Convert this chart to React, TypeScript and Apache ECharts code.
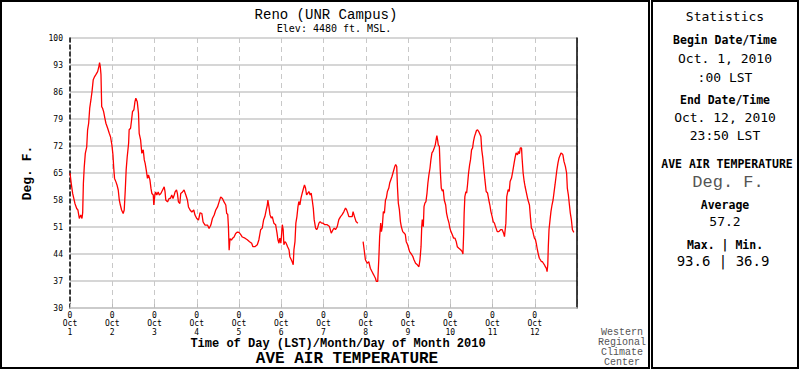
import React, { useEffect, useRef } from "react";
import * as echarts from "echarts";

// Hours since Oct 1, 2010 00:00 LST
const hourOffsets: number[] = [
  0, 0.7, 1.5, 2.8, 3.8, 4.5, 5.3, 6.1, 6.8, 7.2, 7.6, 8.1, 8.7, 9.5, 10, 10.6, 11.2, 11.9, 12.5, 13.2, 14, 14.7, 15.7, 16.4, 16.8, 17.2, 17.6, 18, 18.5, 19.1, 19.8, 20.4, 21.4, 22.3, 23, 23.8,
  24.4, 24.8, 25.3, 26.1, 26.7, 27.4, 28, 28.6, 29.3, 30.2, 30.8, 31.4, 31.9, 32.5, 33.3, 33.6, 34.4, 35, 35.5, 36.3, 36.9, 37.4, 38.2, 38.9, 39.3, 40.1, 40.8, 41.6, 42.2, 42.7, 43.3, 44, 44.6, 45.4, 46, 46.5, 47.3, 47.6,
  48.2, 48.7, 49.3, 50.1, 50.7, 51.6, 52.6, 53.5, 54, 54.4, 55.4, 56.3, 57, 57.8, 58.5, 59.2, 59.7, 60.5, 61, 61.6, 62.4, 62.9, 63.9, 64.8, 65.8, 66.7, 67.3, 68.2, 69.2, 70.3, 71,
  72, 73, 73.9, 74.9, 75.6, 76.7, 78.1, 79, 80, 80.9, 81.9, 82.8, 83.8, 84.7, 85.6, 86.6, 87.5, 88.5, 89, 89.6, 90, 90.4, 90.9, 91.7, 92.2, 93.2, 94.1, 95.1,
  96, 97, 97.9, 99.4, 100.7, 102, 103.2, 103.9, 105, 106.4, 107.3, 108.3, 109.2, 110, 110.7, 111.5, 112.1, 112.4, 113, 113.6, 114.3, 114.9, 115.8, 116.8, 117.6, 118.1, 118.7, 119.2, 119.8,
  120.6, 121.1, 121.5, 122.1, 122.8, 123.6, 124.4, 124.9, 125.7, 126.2, 126.8, 127.2, 127.8, 128.3, 128.9, 129.5, 130, 130.6, 131.2, 131.9, 132.7, 133.2, 133.8, 134.4, 135.1, 135.7, 136.4, 137, 137.6, 138.2, 138.7, 139.5, 140.1, 140.6, 141.4, 142.1, 142.9, 143.6,
  144.8, 146.1, 147.4, 148.4, 149.4, 150.1, 150.8, 151.8, 152.7, 153.7, 154.6, 155.6, 156.5, 157.1, 157.8, 158.4, 159.3, 160.3, 160.8, 161.6, 162.5, 163.5, 165,
  166.5, 167.1, 167.8, 168.8, 169.7, 170.6, 171.6, 172.5, 173.5, 174, 174.8, 175.4, 175.9, 176.5, 176.9, 177.4, 178, 178.6, 179.2, 179.7, 180.3, 181.1, 181.6, 182.2, 182.9, 183.7, 184.5, 185, 185.6, 186, 186.5, 187.1, 187.7, 188.2, 189, 189.9, 190.5, 191, 191.8,
  192.9, 193.9, 194.8, 195.4, 196.3, 197.3, 198.2, 198.8, 199.4, 199.8, 200.1, 200.7, 201.1, 201.6, 202.2, 202.8, 203.3, 203.9, 204.5, 205, 205.6, 206.2, 206.9, 207.5, 208.1, 208.4, 208.8, 209.2, 209.8, 210.3, 210.9, 211.5, 212, 212.6, 213.4, 213.9, 214.5, 215.3, 215.8,
  216.4, 217.2, 217.9, 218.7, 219.4, 220, 220.9, 221.9, 222.8, 223.2, 223.6, 223.9, 224.3, 224.9, 225.3, 225.8, 226.4, 227, 227.5, 228.1, 228.7, 229.2, 229.8, 230.4, 230.9, 231.5, 232.1, 232.6, 233.4, 233.9, 234.5, 235.1, 235.7, 236.4, 237.2, 237.9, 238.5, 239.1, 239.8,
  240.4, 241.1, 241.7, 242.7, 243.6, 244.6, 245.5, 246.3, 246.8, 247.2, 247.6, 248.1, 248.9, 249.5, 250, 250.8, 251.5, 252.3, 252.8, 253.4, 254.2, 254.7, 255.3, 255.8, 256.5, 256.8, 257.4, 258, 258.5, 259.3, 259.9, 260.4, 261, 261.6, 262.1, 262.7, 263.3, 263.8,
  264.4, 265, 265.5, 266.1, 266.6, 267.2, 267.8, 268.3, 268.9, 269.5, 270, 270.6, 271, 271.4, 271.7, 272.1, 272.7, 273.2, 273.8, 274.4, 274.9, 275.5, 276.1, 276.6, 277.2, 277.8, 278.3, 278.9, 279.5, 280, 280.6, 281.4, 282.1, 282.5, 283.1, 283.7, 284.2, 284.8, 285.4, 286.2,
];

// Average air temperature, deg F (null = missing data)
const avgAirTempF: (number | null)[] = [
  65, 62.3, 59.7, 57.1, 55.8, 55.4, 53.2, 54.1, 53.2, 54.7, 62.3, 66.6, 70.1, 71.8, 76.2, 77.9, 81.8, 84, 86.1, 89.2, 90, 90.5, 91.3, 92.6, 93.6, 92.6, 90.5, 82.2, 81.8, 80.9, 79.2, 77.9, 76.6, 75.3, 74.4, 72.3,
  69.7, 66.6, 63.6, 62.7, 61.9, 60.6, 58, 56.7, 55.4, 54.5, 55.4, 60.6, 65.8, 69.2, 72.7, 76.2, 76.6, 78.8, 80.9, 81.4, 83.5, 84.4, 83.5, 80.5, 75.3, 73.6, 70.1, 71, 68.4, 67.5, 65.8, 63.6, 64.5, 63.2, 61, 59.7, 59.3, 56.7,
  59.3, 60.1, 59.3, 60.1, 59.3, 59.7, 60.6, 61.4, 60.1, 58, 57.5, 58.4, 58.4, 59.3, 58.4, 59.3, 60.1, 60.6, 59.7, 57.5, 57.1, 59.7, 60.1, 60.6, 59.3, 58, 56.2, 55.4, 54.9, 55.4, 54.1,
  53.2, 52.8, 54.7, 54.5, 52.3, 51.5, 51.5, 50.6, 51.5, 53.2, 54.1, 55.4, 56.2, 57.5, 58.8, 58.4, 57.5, 56.7, 54.5, 54.3, 51, 45, 48, 47.6, 48, 48.4, 49.3, 49.7,
  49.6, 49, 48.4, 48.1, 47.7, 47.2, 46.8, 45.9, 45.9, 46.4, 47.7, 50.3, 50.7, 52.9, 53.7, 55.5, 56.7, 58, 56.3, 54.2, 53.3, 53.7, 52, 51.6, 49.4, 47.7, 46.8, 48.1, 46.8,
  51.6, 50.3, 46.4, 47.2, 46.8, 45.9, 45.1, 43.3, 42.5, 42, 41.2, 45.1, 47.2, 52, 53.7, 56.3, 57.6, 56.7, 58.5, 59.8, 61.1, 61.9, 61.1, 59.3, 59.8, 60.2, 59.3, 59.8, 58, 55.9, 52.9, 50.7, 50.3, 50.7, 52, 52.4, 52, 52,
  51.6, 51.6, 51.1, 49.4, 50.3, 50.7, 50.3, 51.1, 52.9, 53.7, 54.2, 55, 55.9, 55.5, 54.6, 53.7, 53.7, 53.7, 55, 53.7, 52.4, 52, null,
  47.2, 45.1, 42.5, 41.6, 42, 40.3, 39.4, 38.6, 37.7, 36.9, 36.9, 42.5, 48.5, 52, 49.8, 51.1, 55, 54.6, 58, 58.5, 60.2, 61.1, 62.4, 63.2, 64.1, 65.4, 66.7, 67.2, 66.7, 61.5, 57.2, 55.5, 52.4, 51.1, 49.8, 49.4, 49, 47.2, 46.4,
  44.6, 44, 43.3, 42.5, 41.6, 41.2, 40.7, 42.5, 45.9, 51.1, 52.9, 51.1, 56.3, 57.2, 57.6, 59.8, 62.4, 64.6, 66.3, 68.4, 70.2, 70.6, 71.5, 72.3, 74, 74.7, 73.6, 72.3, 71.9, 65.9, 61.1, 60.3, 60.7, 58, 56.7, 54.6, 53.3, 52, 50.7,
  49.8, 49, 48.1, 48.1, 47.2, 45.9, 45.5, 45.1, 44.6, 44, 49, 54.6, 58.9, 60.2, 59.8, 61.9, 65, 67.1, 68.4, 71, 71.5, 73.2, 74.5, 75.3, 76, 76.2, 75.8, 75.3, 74.5, 71, 68.9, 65.9, 63.2, 60.2, 59.8, 58, 56.7, 55, 53.7,
  52.4, 52, 51.1, 49.8, 49.8, 50.3, 50.3, 49.4, 48.5, 50.3, 52, 58.9, 60.7, 60.2, 62.8, 63.7, 65.4, 67.6, 68.9, 70.2, 69.7, 70.6, 70, 71.5, 71.5, 68.9, 65, 62.8, 61.5, 59.8, 58.5, 57.6, 56.7, 53.3, 50.7, 50.3, 49, 48.1,
  47.7, 46.4, 45.1, 43.8, 42.9, 42.5, 42, 42, 41.6, 41.2, 40.7, 40.3, 39.4, 41.2, 45.9, 50.3, 52.9, 55, 56.7, 58, 59.8, 61.9, 64.1, 65.9, 67.6, 68.9, 69.5, 70.2, 70, 69.7, 68, 66.7, 65, 61.1, 59.3, 56.7, 54.6, 52.9, 50.3, 49.6,
];

const yTicks = { min: 30, max: 100, step: 7 };
const xDays = { startDay: 1, count: 12, hoursPerDay: 24 };

const chartTitle = "Reno (UNR Campus)";
const chartSubtitle = "Elev: 4480 ft. MSL.";
const xAxisTitle = "Time of Day (LST)/Month/Day of Month 2010";
const elementTitle = "AVE AIR TEMPERATURE";
const yAxisTitle = "Deg. F.";
const creditLines = ["Western", "Regional", "Climate", "Center"];

const statsHeading = "Statistics";
const statsBeginLabel = "Begin Date/Time";
const statsBegin = ["Oct. 1, 2010", ":00 LST"];
const statsEndLabel = "End Date/Time";
const statsEnd = ["Oct. 12, 2010", "23:50 LST"];
const statsElement = "AVE AIR TEMPERATURE";
const statsUnits = "Deg. F.";
const statsAvgLabel = "Average";
const statsAvg = "57.2";
const statsMaxMinLabel = "Max. | Min.";
const statsMaxMin = "93.6 | 36.9";

const MONO = '"Liberation Mono", "Courier New", monospace';
const SANSMONO = '"DejaVu Sans Mono", monospace';

function txt(
  text: string,
  x: number,
  y: number,
  size: number,
  opts: { bold?: boolean; family?: string; fill?: string; lineHeight?: number } = {}
) {
  return {
    type: "text",
    x,
    y,
    z: 50,
    style: {
      text,
      fill: opts.fill || "#000",
      fontSize: size,
      fontFamily: opts.family || MONO,
      fontWeight: opts.bold ? "bold" : "normal",
      lineHeight: opts.lineHeight,
      align: "center",
      verticalAlign: "middle",
      textAlign: "center",
      textVerticalAlign: "middle",
    },
  };
}

export default function App() {
  const ref = useRef<HTMLDivElement>(null);

  useEffect(() => {
    if (!ref.current) return;
    const chart = echarts.init(ref.current, null, { renderer: "svg" });

    const data = hourOffsets.map((h, i) => [h, avgAirTempF[i] === null ? "-" : avgAirTempF[i]]);
    const xMax = xDays.count * xDays.hoursPerDay;

    const option: any = {
      animation: false,
      backgroundColor: "#fff",
      grid: { left: 70, top: 38, width: 507, height: 270, containLabel: false },
      xAxis: {
        type: "value",
        min: 0,
        max: xMax,
        interval: xDays.hoursPerDay,
        axisLine: { show: true, lineStyle: { color: "#c8c8c8", width: 1.5 } },
        axisTick: { show: true, inside: true, length: 4, lineStyle: { color: "#bbb" } },
        axisLabel: {
          showMaxLabel: false,
          margin: 3,
          color: "#000",
          fontFamily: SANSMONO,
          fontSize: 8,
          lineHeight: 8.6,
          formatter: (v: number) => `0\nOct\n${v / xDays.hoursPerDay + xDays.startDay}`,
        },
        splitLine: { show: true, lineStyle: { color: "#c8c8c8", width: 1, type: [5, 4] } },
      },
      yAxis: [
        {
          type: "value",
          position: "left",
          min: yTicks.min,
          max: yTicks.max,
          interval: yTicks.step,
          name: yAxisTitle,
          nameLocation: "middle",
          nameRotate: 90,
          nameGap: 36,
          nameTextStyle: { fontFamily: MONO, fontWeight: "bold", fontSize: 13, color: "#000" },
          axisLine: { show: true, lineStyle: { color: "#000", width: 1.5, type: [4, 3] } },
          axisTick: { show: false },
          axisLabel: { margin: 7, color: "#000", fontFamily: SANSMONO, fontSize: 8 },
          splitLine: { show: true, lineStyle: { color: "#c8c8c8", width: 1.5 } },
        },
        {
          type: "value",
          position: "right",
          min: yTicks.min,
          max: yTicks.max,
          interval: yTicks.step,
          axisLine: { show: true, lineStyle: { color: "#000", width: 1.5 } },
          axisTick: { show: false },
          axisLabel: { show: false },
          splitLine: { show: false },
        },
      ],
      series: [
        {
          type: "line",
          data,
          yAxisIndex: 0,
          showSymbol: false,
          connectNulls: false,
          lineStyle: { color: "#ff0000", width: 1.3 },
          itemStyle: { color: "#ff0000" },
          z: 5,
        },
      ],
      graphic: [
        { type: "rect", z: 60, shape: { x: 1, y: 1, width: 648, height: 367 }, style: { fill: "none", stroke: "#000", lineWidth: 2 } },
        { type: "rect", z: 60, shape: { x: 652, y: 1, width: 146, height: 367 }, style: { fill: "none", stroke: "#000", lineWidth: 2 } },
        txt(chartTitle, 326, 15, 14),
        txt(chartSubtitle, 334, 28, 10, { family: SANSMONO }),
        txt(xAxisTitle, 338, 343.5, 12, { bold: true, lineHeight: 12 }),
        txt(elementTitle, 347, 359, 16, { bold: true, lineHeight: 14 }),
        txt(creditLines.join("\n"), 622, 347, 10, { fill: "#555", lineHeight: 10 }),
        txt(statsHeading, 725, 16, 13, { family: SANSMONO }),
        txt(statsBeginLabel, 725, 40, 11.5, { family: SANSMONO, bold: true }),
        txt(statsBegin[0], 725, 58, 13, { family: SANSMONO }),
        txt(statsBegin[1], 725, 77, 13, { family: SANSMONO }),
        txt(statsEndLabel, 725, 100, 11.5, { family: SANSMONO, bold: true }),
        txt(statsEnd[0], 725, 117, 13, { family: SANSMONO }),
        txt(statsEnd[1], 725, 135, 13, { family: SANSMONO }),
        txt(statsElement, 727, 164, 11.5, { family: SANSMONO, bold: true }),
        txt(statsUnits, 728, 182, 17, { fill: "#555" }),
        txt(statsAvgLabel, 725, 205, 11.5, { family: SANSMONO, bold: true }),
        txt(statsAvg, 725, 221, 13, { family: SANSMONO }),
        txt(statsMaxMinLabel, 725, 245, 11.5, { family: SANSMONO, bold: true }),
        txt(statsMaxMin, 723, 261, 14, { family: SANSMONO }),
      ],
    };

    chart.setOption(option);
    return () => chart.dispose();
  }, []);

  return (
    <div
      ref={ref}
      style={{ position: "fixed", left: 0, top: 0, width: 800, height: 370, background: "#fff" }}
    />
  );
}
